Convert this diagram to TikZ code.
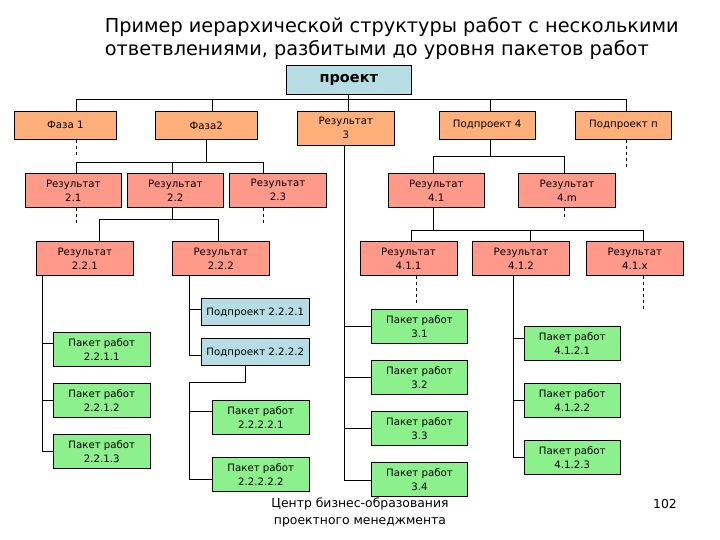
\documentclass[tikz,border=0pt]{standalone}
\usepackage{fontspec}
\setmainfont{DejaVu Sans}
\usetikzlibrary{arrows}

\definecolor{projblue}{RGB}{182,221,228}
\definecolor{fazaorange}{RGB}{255,176,122}
\definecolor{rezred}{RGB}{255,153,138}
\definecolor{paketgreen}{RGB}{140,240,140}

\begin{document}
\begin{tikzpicture}[x=1pt,y=-1pt,line width=1pt]
  \tikzstyle{box}=[draw,inner sep=0pt,align=center,minimum width=97pt,
                   minimum height=34pt,font=\fontsize{10.2}{14}\selectfont]
  \tikzstyle{faza}=[box,fill=fazaorange,minimum height=28pt]
  \tikzstyle{rez}=[box,fill=rezred]
  \tikzstyle{podpr}=[box,fill=projblue,minimum width=108pt,minimum height=27.3pt]
  \tikzstyle{paket}=[box,fill=paketgreen]
  \tikzstyle{stub}=[dash pattern=on 3.5pt off 2.5pt]

  \useasboundingbox (0,0) rectangle (720,540);

  \node[anchor=west,align=left,font=\fontsize{19.3}{23}\selectfont] (title) at (101,38.5)
    {Пример иерархической структуры работ с несколькими\\ответвлениями, разбитыми до уровня пакетов работ};

  % level 0 and 1
  \node[box,fill=projblue,minimum width=125pt,minimum height=28.6pt,
        font=\fontsize{14.5}{16}\bfseries] (proj) at (348.8,80) {проект};
  \node[faza,minimum width=102pt] (f1)  at (65.3,125.3)  {Фаза 1};
  \node[faza,minimum width=102pt] (f2)  at (206.3,125.3) {Фаза2};
  \node[faza,minimum height=34pt] (r3)  at (345.8,128.3) {Результат\\3};
  \node[faza,minimum width=95.7pt] (sp4) at (487.2,125.3) {Подпроект 4};
  \node[faza,minimum width=95.6pt] (spn) at (623.5,125.3) {Подпроект п};

  % results
  \node[rez,minimum width=96pt] (r21) at (73.3,190.3)  {Результат\\2.1};
  \node[rez,minimum width=96pt] (r22) at (175.3,190.3) {Результат\\2.2};
  \node[rez] (r23) at (278,190.3)   {Результат\\2.3};
  \node[rez,minimum width=96pt] (r41) at (436.3,190.3) {Результат\\4.1};
  \node[rez] (r4m) at (567,190.3)   {Результат\\4.m};
  \node[rez] (r221) at (84.8,258.3)  {Результат\\2.2.1};
  \node[rez] (r222) at (220.8,258.3) {Результат\\2.2.2};
  \node[rez] (r411) at (408.5,258.3) {Результат\\4.1.1};
  \node[rez] (r412) at (521,258.3)   {Результат\\4.1.2};
  \node[rez] (r41x) at (634.8,258.3) {Результат\\4.1.x};

  % subprojects and work packages
  \node[podpr] (sp2221) at (255.3,312.3) {Подпроект 2.2.2.1};
  \node[podpr] (sp2222) at (255.3,352.3) {Подпроект 2.2.2.2};
  \node[paket] (wp2211) at (101.8,349.3) {Пакет работ\\2.2.1.1};
  \node[paket] (wp2212) at (101.8,400.3) {Пакет работ\\2.2.1.2};
  \node[paket] (wp2213) at (101.8,451.3) {Пакет работ\\2.2.1.3};
  \node[paket] (wp22221) at (260.8,417.3) {Пакет работ\\2.2.2.2.1};
  \node[paket] (wp22222) at (260.8,474.3) {Пакет работ\\2.2.2.2.2};
  \node[paket,minimum width=96.4pt] (wp31) at (419.5,326.3) {Пакет работ\\3.1};
  \node[paket,minimum width=96.4pt] (wp32) at (419.5,377.3) {Пакет работ\\3.2};
  \node[paket,minimum width=96.4pt] (wp33) at (419.5,428.3) {Пакет работ\\3.3};
  \node[paket,minimum width=96.4pt] (wp34) at (419.5,479.3) {Пакет работ\\3.4};
  \node[paket,minimum width=96pt] (wp4121) at (572.3,343.3) {Пакет работ\\4.1.2.1};
  \node[paket,minimum width=96pt] (wp4122) at (572.3,400.3) {Пакет работ\\4.1.2.2};
  \node[paket,minimum width=96pt] (wp4123) at (572.3,457.3) {Пакет работ\\4.1.2.3};

  \node[align=center,font=\fontsize{12.4}{17}\selectfont] (foot) at (360,512.5)
    {Центр бизнес-образования\\проектного менеджмента};
  \node[font=\fontsize{12.4}{14}\selectfont] (page) at (665,504) {102};

  % buses
  \coordinate (b1) at (348.5,99.5);
  \coordinate (b2) at (206.5,162.5);
  \coordinate (b3) at (172.5,219.5);
  \coordinate (b4) at (490.5,156.5);
  \coordinate (b5) at (433.5,230.5);
  \coordinate (b6) at (189.5,382.5);

  \draw (proj.south -| b1) -- (b1)
        (b1) -| ([xshift=11.2pt]f1.north)
        (b1) -| ([xshift=5.7pt]f2.north)
        (b1) -| ([xshift=2.7pt]r3.north)
        (b1) -| ([xshift=3.3pt]sp4.north)
        (b1) -| ([xshift=3pt]spn.north);

  \draw (f2.south -| b2) -- (b2)
        (b2) -| ([xshift=3.2pt]r21.north)
        (b2) -| ([xshift=-2.8pt]r22.north)
        (b2) -| ([xshift=-14.5pt]r23.north);

  \draw (r22.south -| b3) -- (b3)
        (b3) -| ([xshift=14.7pt]r221.north)
        (b3) -| ([xshift=-2.3pt]r222.north);

  \draw (sp4.south -| b4) -- (b4)
        (b4) -| ([xshift=-2.8pt]r41.north)
        (b4) -| ([xshift=-2.5pt]r4m.north);

  \draw (r41.south -| b5) -- (b5)
        (b5) -| ([xshift=3pt]r411.north)
        (b5) -| ([xshift=9.5pt]r412.north)
        (b5) -| ([xshift=8.7pt]r41x.north);

  % side trunks
  \draw ([xshift=-42.3pt]r221.south) |- (wp2213.west)
        ([yshift=6pt]wp2211.west) -| ([xshift=-42.3pt]r221.south)
        (wp2212.west) -| ([xshift=-42.3pt]r221.south);

  \draw ([xshift=-31.3pt]r222.south) |- ([yshift=-2.7pt]sp2222.west)
        ([yshift=3pt]sp2221.west) -| ([xshift=-31.3pt]r222.south);
  \draw ([xshift=-9.8pt]sp2222.south) |- (b6) |- ([yshift=-5pt]wp22222.west)
        ([yshift=6pt]wp22221.west) -| (b6);

  \draw ([xshift=-1.3pt]r3.south) |- ([yshift=-0.7pt]wp34.west)
        (wp31.west) -| ([xshift=-1.3pt]r3.south)
        (wp32.west) -| ([xshift=-1.3pt]r3.south)
        (wp33.west) -| ([xshift=-1.3pt]r3.south);

  \draw ([xshift=-7.5pt]r412.south) |- (wp4123.west)
        ([yshift=5pt]wp4121.west) -| ([xshift=-7.5pt]r412.south)
        (wp4122.west) -| ([xshift=-7.5pt]r412.south);

  % cut branches
  \draw[stub] ([xshift=11.2pt]f1.south) -- ++(0,17.4);
  \draw[stub] ([xshift=3pt]spn.south) -- ++(0,29);
  \draw[stub] ([xshift=3.2pt]r21.south) -- ++(0,17.7);
  \draw[stub] ([xshift=-14.5pt]r23.south) -- ++(0,17.7);
  \draw[stub] ([xshift=-2.5pt]r4m.south) -- ++(0,12);
  \draw[stub] ([xshift=8pt]r411.south) -- ++(0,29.7);
  \draw[stub] ([xshift=8.7pt]r41x.south) -- ++(0,34);
\end{tikzpicture}
\end{document}
